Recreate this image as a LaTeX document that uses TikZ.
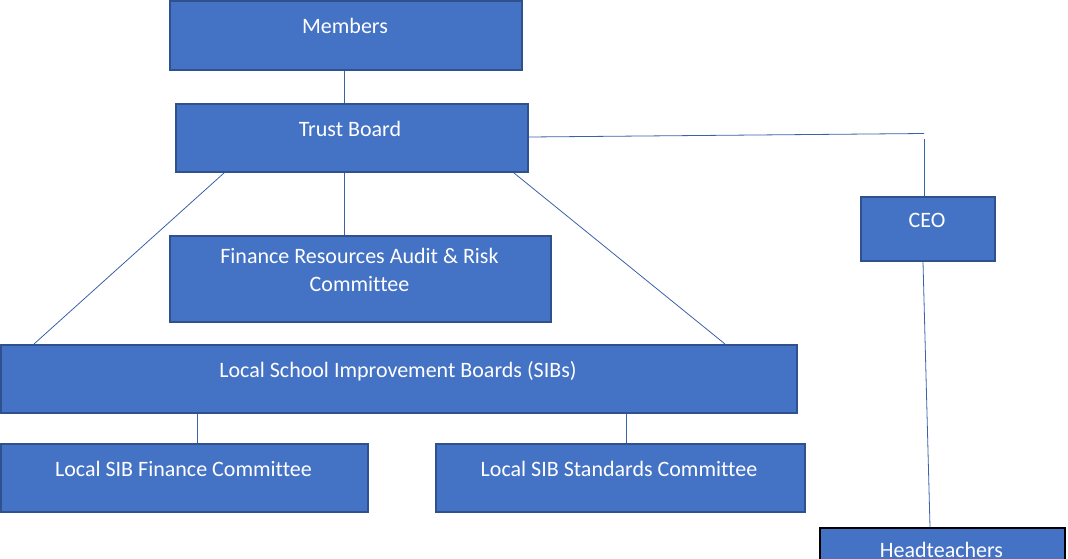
\documentclass[tikz,border=0pt]{standalone}
\usepackage{fontspec}
\setmainfont[RawFeature={-liga}]{Carlito}
\definecolor{boxfill}{HTML}{4472C4}
\definecolor{boxline}{HTML}{2F528F}
\definecolor{conn}{HTML}{3A62A8}
\begin{document}
\begin{tikzpicture}[x=1pt,y=-1pt,
  box/.style={draw=boxline, fill=boxfill, line width=2pt, inner sep=0pt, anchor=north west},
  lbl/.style={text=white, font=\fontsize{22}{27}\selectfont, inner sep=0pt, anchor=base, align=center},
  conn/.style={draw=conn, line width=0.8pt}]
\useasboundingbox (0,0) rectangle (1068,558);
\clip (0,0) rectangle (1068,558);
% boxes
\node[box, minimum width=352pt, minimum height=69pt] (members) at (169,0) {};
\node[box, minimum width=352pt, minimum height=68pt] (trust) at (175,103) {};
\node[box, minimum width=381pt, minimum height=86pt] (fra) at (169,235) {};
\node[box, minimum width=134pt, minimum height=64pt] (ceo) at (860,196) {};
\node[box, minimum width=796pt, minimum height=68pt] (sibs) at (0,344) {};
\node[box, minimum width=367pt, minimum height=68pt] (sibfin) at (0,443) {};
\node[box, minimum width=369pt, minimum height=68pt] (sibstd) at (435,443) {};
\node[box, draw=black, minimum width=245pt, minimum height=68pt] (head) at (819,527) {};
% labels
\node[lbl] (tmembers) at (345,33) {Members};
\node[lbl] (ttrust) at (350,136.5) {Trust Board};
\node[lbl] (tfra1) at (359.5,263) {Finance Resources Audit \& Risk};
\node[lbl] (tfra2) at (359.5,291) {Committee};
\node[lbl] (tceo) at (927,227) {CEO};
\node[lbl] (tsibs) at (398,377) {Local School Improvement Boards (SIBs)};
\node[lbl] (tsibfin) at (183.5,476.5) {Local SIB Finance Committee};
\node[lbl] (tsibstd) at (619,476.5) {Local SIB Standards Committee};
\node[lbl] (thead) at (941.5,557) {Headteachers};
% connectors
\coordinate (c1) at (924,133.5);
\coordinate (c2) at (924,139);
\draw[conn] (members.south west -| 344,0) -- (trust.north west -| 344,0);
\draw[conn] (trust.south west -| 344,0) -- (fra.north west -| 344,0);
\draw[conn] (trust.south west -| 224,0) -- (sibs.north west -| 34,0);
\draw[conn] (trust.south west -| 514,0) -- (sibs.north west -| 725,0);
\draw[conn] (trust.east |- 0,137) -- (c1);
\draw[conn] (c2) -- (ceo.north west -| c2);
\draw[conn] (ceo.south west -| 923,0) -- (head.north west -| 930,0);
\draw[conn] (sibs.south west -| 197,0) -- (sibfin.north west -| 197,0);
\draw[conn] (sibs.south west -| 626,0) -- (sibstd.north west -| 626,0);
\end{tikzpicture}
\end{document}
